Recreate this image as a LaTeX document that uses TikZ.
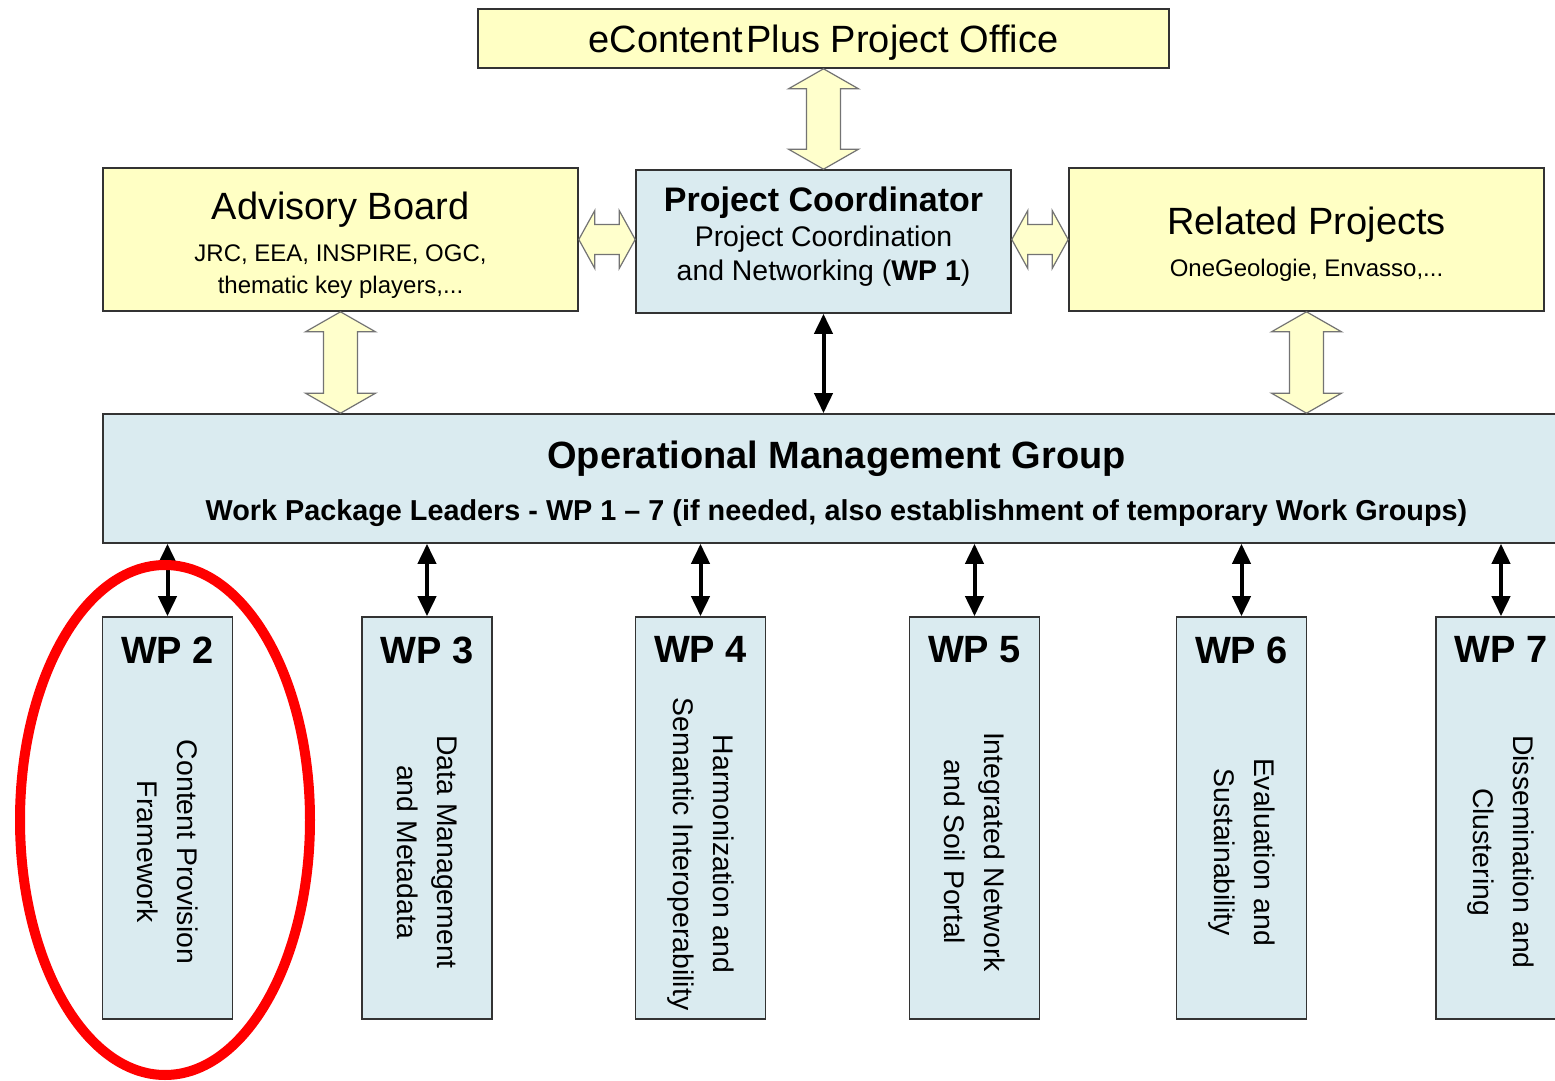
\documentclass[tikz,border=0pt]{standalone}
\usepackage{fontspec}
\setmainfont{Liberation Sans}
\usetikzlibrary{calc,arrows.meta,positioning}

\definecolor{boxyellow}{HTML}{FFFFC4}
\definecolor{boxblue}{HTML}{DAEBF0}
\definecolor{arrowyellow}{HTML}{FFFFCC}

% hollow double arrows, tip to tip
\newcommand{\vblock}[2]{%
  \draw[blockarrow] (#1) -- ++(35,20) -- ++(-18,0) -- ($(#2)+(17,-20)$) -- ++(18,0) -- (#2)
    -- ++(-35,-20) -- ++(18,0) -- ($(#1)+(-17,20)$) -- ++(-18,0) -- cycle;}
\newcommand{\hblock}[2]{%
  \draw[blockarrow] (#1) -- ++(16,-29) -- ++(0,14) -- ($(#2)+(-16,-15)$) -- ++(0,-14) -- (#2)
    -- ++(-16,29) -- ++(0,-14) -- ($(#1)+(16,15)$) -- ++(0,14) -- cycle;}

\begin{document}
\begin{tikzpicture}[x=0.5pt,y=-0.5pt,
    ybox/.style={draw=black!80, line width=0.8pt, fill=boxyellow, inner sep=0pt, align=center},
    bbox/.style={draw=black!80, line width=0.8pt, fill=boxblue, inner sep=0pt, align=center},
    wpbox/.style={bbox, minimum width=65pt, minimum height=201pt},
    wptitle/.style={font=\fontsize{19}{23}\selectfont\bfseries, inner sep=0pt},
    wptext/.style={rotate=-90, align=center, font=\fontsize{14.2}{20}\selectfont, inner sep=0pt},
    blockarrow/.style={draw=black!55, line width=0.6pt, fill=arrowyellow},
    link/.style={line width=2pt, {Triangle[length=10pt,width=9pt]}-{Triangle[length=10pt,width=9pt]}}]
  \path[use as bounding box, fill=white] (0,0) rectangle (1555,1081);
  \clip (0,0) rectangle (1555,1081);

  % top row
  \node[ybox, minimum width=345.5pt, minimum height=29.5pt, text depth=0pt, font=\fontsize{19}{23}\selectfont]
    (office) at (823.5,38.5) {eContent\hspace{0.1em}Plus Project Office};
  \node[ybox, minimum width=237.5pt, minimum height=71.5pt, font=\fontsize{12}{16}\selectfont]
    (adv) at (340.5,239.5) {\rule{0pt}{19pt}{\fontsize{19}{23}\selectfont Advisory Board}\\[5pt]
    JRC, EEA, INSPIRE, OGC,\\ thematic key players,...};
  \node[bbox, minimum width=187.5pt, minimum height=71.5pt, font=\fontsize{14.2}{17}\selectfont]
    (coord) at (823.5,241.5) {{\fontsize{17}{20}\selectfont\bfseries Project Coordinator}\\[0.5pt]
    Project Coordination\\ and Networking (\textbf{WP 1})\rule[-8pt]{0pt}{0pt}};
  \node[ybox, minimum width=237.5pt, minimum height=71.5pt, font=\fontsize{12}{16}\selectfont]
    (rel) at (1306.5,239.5) {\rule{0pt}{18pt}{\fontsize{19}{23}\selectfont Related Projects}\\[5pt]
    OneGeologie, Envasso,...};

  % management group
  \node[bbox, minimum width=733.5pt, minimum height=64.5pt, font=\fontsize{14.4}{17}\selectfont\bfseries]
    (omg) at (836.5,478.5) {\rule{0pt}{19pt}{\fontsize{19}{23}\selectfont Operational Management Group}\\[9pt]
    Work Package Leaders - WP 1 – 7 (if needed, also establishment of temporary Work Groups)};

  % work packages
  \node[wpbox] (wp2) at (167.5,818) {};
  \node[wptitle, below=10pt of wp2.north] (wp2t) {WP 2};
  \node[wptext] (wp2x) at ([yshift=-17pt]wp2.center) {Content Provision\\Framework};
  \node[wpbox] (wp3) at (427,818) {};
  \node[wptitle, below=10pt of wp3.north] (wp3t) {WP 3};
  \node[wptext] (wp3x) at ([yshift=-17pt]wp3.center) {Data Management\\and Metadata};
  \node[wpbox] (wp4) at (700.5,818) {};
  \node[wptitle, below=10pt of wp4.north] (wp4t) {WP 4};
  \node[wptext] (wp4x) at ([yshift=-18pt]wp4.center) {Harmonization and\\Semantic Interoperability};
  \node[wpbox] (wp5) at (974.5,818) {};
  \node[wptitle, below=10pt of wp5.north] (wp5t) {WP 5};
  \node[wptext] (wp5x) at ([yshift=-17pt]wp5.center) {Integrated Network\\and Soil Portal};
  \node[wpbox] (wp6) at (1241.5,818) {};
  \node[wptitle, below=10pt of wp6.north] (wp6t) {WP 6};
  \node[wptext] (wp6x) at ([yshift=-17pt]wp6.center) {Evaluation and\\Sustainability};
  \node[wpbox] (wp7) at (1501,818) {};
  \node[wptitle, below=10pt of wp7.north] (wp7t) {WP 7};
  \node[wptext] (wp7x) at ([yshift=-17pt]wp7.center) {Dissemination and\\Clustering};

  % hollow arrows
  \coordinate (officein) at (office.south |- coord.north);
  \coordinate (advin) at (adv.south |- omg.north);
  \coordinate (relin) at (rel.south |- omg.north);
  \coordinate (advout) at (adv.east -| coord.west);
  \coordinate (relout) at (coord.east |- rel.west);
  \vblock{office.south}{officein}
  \vblock{adv.south}{advin}
  \vblock{rel.south}{relin}
  \hblock{adv.east}{advout}
  \hblock{relout}{rel.west}

  % black arrows
  \draw[link] (coord.south) -- (coord.south |- omg.north);
  \draw[link] (omg.south -| wp2.north) -- (wp2.north);
  \draw[link] (omg.south -| wp3.north) -- (wp3.north);
  \draw[link] (omg.south -| wp4.north) -- (wp4.north);
  \draw[link] (omg.south -| wp5.north) -- (wp5.north);
  \draw[link] (omg.south -| wp6.north) -- (wp6.north);
  \draw[link] (omg.south -| wp7.north) -- (wp7.north);

  % highlight
  \draw[red, line width=5pt] (165,820) ellipse [x radius=145, y radius=255];
\end{tikzpicture}
\end{document}
